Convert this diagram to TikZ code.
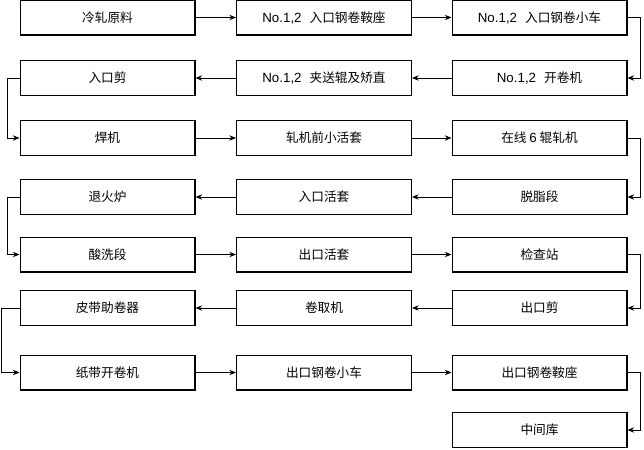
\documentclass[tikz,border=0pt]{standalone}
\usepackage{fontspec}
\setmainfont{Liberation Sans}
\newfontfamily\cjk{Noto Sans CJK SC}[Scale=0.95]
\usetikzlibrary{arrows.meta}
\tikzset{every scope/.style={>={Stealth[length=5pt,width=4pt]},semithick}}
\tikzset{stage/.style={rectangle, draw, line width=1pt, minimum width=131pt, minimum height=26pt, inner sep=0pt, font=\cjk\normalsize}}
\def\Mill{No.1,2\hspace{0.6em}}
\begin{document}
\begin{tikzpicture}[x=0.75pt,y=-0.75pt]
  \useasboundingbox (0,0) rectangle (644,450);
  \node[stage] (ColdRaw)    at (107.5, 17.5) {冷轧原料};
  \node[stage] (EntrySaddle) at (324, 17.5)  {{\rmfamily\Mill}入口钢卷鞍座};
  \node[stage] (EntryCar)   at (539.5, 17.5) {{\rmfamily\Mill}入口钢卷小车};
  \node[stage] (EntryShear) at (107.5, 78)   {入口剪};
  \node[stage] (PinchRoll)  at (324, 78)     {{\rmfamily\Mill}夹送辊及矫直};
  \node[stage] (Uncoiler)   at (539.5, 78)   {{\rmfamily\Mill}开卷机};
  \node[stage] (Welder)     at (107.5, 138)  {焊机};
  \node[stage] (PreLooper)  at (324, 138)    {轧机前小活套};
  \node[stage] (SixHigh)    at (539.5, 138)  {在线 {\rmfamily 6} 辊轧机};
  \node[stage] (Furnace)    at (107.5, 197)  {退火炉};
  \node[stage] (EntryLooper) at (324, 197)   {入口活套};
  \node[stage] (Degrease)   at (539.5, 197)  {脱脂段};
  \node[stage] (Pickle)     at (107.5, 254.5) {酸洗段};
  \node[stage] (ExitLooper) at (324, 254.5)  {出口活套};
  \node[stage] (Inspect)    at (539.5, 254.5) {检查站};
  \node[stage] (BeltWrap)   at (107.5, 308)  {皮带助卷器};
  \node[stage] (Coiler)     at (324, 308)    {卷取机};
  \node[stage] (ExitShear)  at (539.5, 308)  {出口剪};
  \node[stage] (PaperUncoil) at (107.5, 372.5) {纸带开卷机};
  \node[stage] (ExitCar)    at (324, 372.5)  {出口钢卷小车};
  \node[stage] (ExitSaddle) at (539.5, 372.5) {出口钢卷鞍座};
  \node[stage] (Store)      at (539.5, 430)  {中间库};

  \draw[->] (ColdRaw) -- (EntrySaddle);
  \draw[->] (EntrySaddle) -- (EntryCar);
  \draw[->] (EntryCar.east) -- ++(13,0) |- (Uncoiler.east);
  \draw[->] (Uncoiler) -- (PinchRoll);
  \draw[->] (PinchRoll) -- (EntryShear);
  \draw[->] (EntryShear.west) -- ++(-12,0) |- (Welder.west);
  \draw[->] (Welder) -- (PreLooper);
  \draw[->] (PreLooper) -- (SixHigh);
  \draw[->] (SixHigh.east) -- ++(13,0) |- (Degrease.east);
  \draw[->] (Degrease) -- (EntryLooper);
  \draw[->] (EntryLooper) -- (Furnace);
  \draw[->] (Furnace.west) -- ++(-12,0) |- (Pickle.west);
  \draw[->] (Pickle) -- (ExitLooper);
  \draw[->] (ExitLooper) -- (Inspect);
  \draw[->] (Inspect.east) -- ++(13,0) |- (ExitShear.east);
  \draw[->] (ExitShear) -- (Coiler);
  \draw[->] (Coiler) -- (BeltWrap);
  \draw[->] (BeltWrap.west) -- ++(-18,0) |- (PaperUncoil.west);
  \draw[->] (PaperUncoil) -- (ExitCar);
  \draw[->] (ExitCar) -- (ExitSaddle);
  \draw[->] (ExitSaddle.east) -- ++(13,0) |- (Store.east);
\end{tikzpicture}
\end{document}
